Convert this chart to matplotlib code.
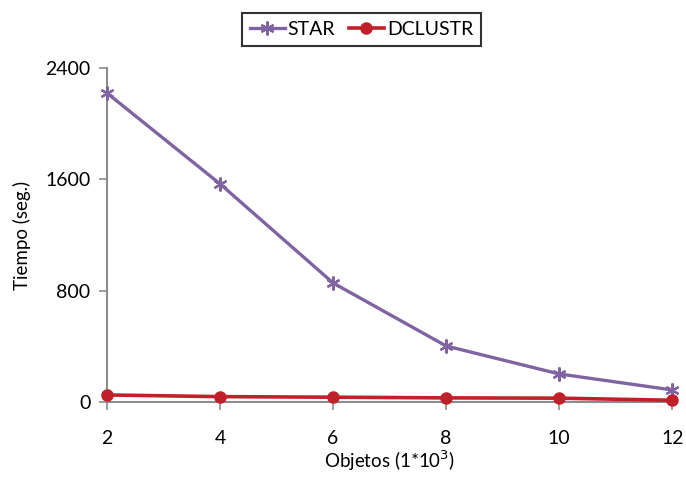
import numpy as np
import matplotlib.pyplot as plt

plt.rcParams['font.family'] = ['Lato', 'DejaVu Sans']

objetos = [2, 4, 6, 8, 10, 12]
star = [2220, 1567, 855, 402, 201, 86]
dclustr = [50, 38, 34, 29, 27, 12]

fig = plt.figure(figsize=(6.86, 4.86), dpi=100)
ax = fig.add_axes([0.156, 0.173, 0.824, 0.687])

ax.plot(objetos, star, color='#8064A2', lw=2.4, marker=(6, 2, 0), ms=10,
        mew=1.6, label='STAR', clip_on=False, zorder=3)
ax.plot(objetos, dclustr, color='#C0202A', lw=2.6, marker='o', ms=8,
        label='DCLUSTR', clip_on=False, zorder=4)

ax.set_xlim(2, 12)
ax.set_ylim(0, 2400)
ax.set_xticks(objetos)
ax.set_yticks([0, 800, 1600, 2400])
for s in ['top', 'right']:
    ax.spines[s].set_visible(False)
for s in ['left', 'bottom']:
    ax.spines[s].set_color('#8c8c8c')
    ax.spines[s].set_linewidth(1.5)
ax.tick_params(colors='#8c8c8c', labelcolor='black', labelsize=14,
               length=6, width=1.2)
ax.tick_params(axis='x', pad=14)
ax.tick_params(axis='y', pad=6)

ax.set_xlabel('Objetos (1*10$^3$)', fontsize=13.5, labelpad=1)
ax.set_ylabel('Tiempo (seg.)', fontsize=13.5, labelpad=10)

leg = fig.legend(loc='upper center', bbox_to_anchor=(0.527, 0.993), ncol=2,
                 fontsize=14, frameon=True, fancybox=False, handlelength=1.8,
                 columnspacing=0.7, handletextpad=0.15, borderpad=0.4)
leg.get_frame().set_edgecolor('black')
leg.get_frame().set_linewidth(1.5)

fig.savefig('out.png', dpi=100)
